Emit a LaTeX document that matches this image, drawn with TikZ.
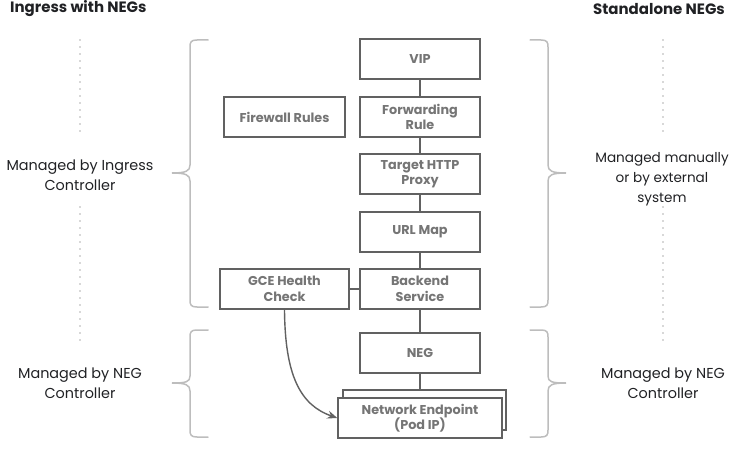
\documentclass[tikz,border=0pt]{standalone}
\usepackage{fontspec}
\setmainfont{Poppins}
\usetikzlibrary{arrows.meta}
\definecolor{boxc}{HTML}{616161}
\definecolor{txtc}{HTML}{757575}
\definecolor{lblc}{HTML}{202124}
\definecolor{brc}{HTML}{BDBDBD}
\definecolor{dotc}{HTML}{B0B0B0}
\tikzset{
  box/.style={draw=boxc, line width=1.4pt, fill=white, text=txtc, font=\fontsize{12.8}{15.5}\selectfont\bfseries, align=center, inner sep=0pt, minimum height=40pt},
  wire/.style={draw=boxc, line width=1.4pt},
  brace/.style={draw=brc, line width=1.5pt, line cap=round},
  dotline/.style={draw=dotc, line width=1.7pt, line cap=round, dash pattern=on 0pt off 7pt},
  lbl/.style={text=lblc, font=\fontsize{14.4}{20}\selectfont, align=center, inner sep=0pt},
  ttl/.style={text=lblc, font=\fontsize{15}{16}\selectfont\bfseries, inner sep=0pt}
}
\begin{document}
\begin{tikzpicture}[x=1pt,y=-1pt]
\useasboundingbox (0,0) rectangle (733,449);
% titles
\node[ttl, anchor=west] (t1) at (10,9) {Ingress with NEGs};
\node[ttl, anchor=east] (t2) at (725,9) {Standalone NEGs};
% dotted lines
\coordinate (dl1a) at (80,40); \coordinate (dl1b) at (80,137);
\coordinate (dl2a) at (80,207); \coordinate (dl2b) at (80,343);
\coordinate (dr1a) at (663,40); \coordinate (dr1b) at (663,137);
\coordinate (dr2a) at (663,207); \coordinate (dr2b) at (663,343);
\draw[dotline] (dl1a) -- (dl1b);
\draw[dotline] (dl2a) -- (dl2b);
\draw[dotline] (dr1a) -- (dr1b);
\draw[dotline] (dr2a) -- (dr2b);
% labels
\node[lbl] (l1) at (80,175.5) {Managed by Ingress\\Controller};
\node[lbl] (l2) at (80,383.5) {Managed by NEG\\Controller};
\node[lbl, font=\fontsize{13.6}{20}\selectfont] (r1) at (662,179) {Managed manually\\or by external\\system};
\node[lbl] (r2) at (663,383.5) {Managed by NEG\\Controller};
% braces
\draw[brace] (208,40) -- (197,40) .. controls (191,40) and (190,42) .. (190,47) -- (190,165)
  .. controls (190,171) and (186,173) .. (172,173)
  .. controls (186,173) and (190,175) .. (190,181) -- (190,300)
  .. controls (190,305) and (191,307) .. (197,307) -- (208,307);
\draw[brace] (208,330) -- (197,330) .. controls (191,330) and (190,332) .. (190,337) -- (190,376)
  .. controls (190,382) and (186,383) .. (172,383)
  .. controls (186,383) and (190,385) .. (190,391) -- (190,430)
  .. controls (190,435) and (191,437) .. (197,437) -- (208,437);
\draw[brace] (530,40) -- (541,40) .. controls (547,40) and (548,42) .. (548,47) -- (548,165)
  .. controls (548,171) and (552,173) .. (566,173)
  .. controls (552,173) and (548,175) .. (548,181) -- (548,300)
  .. controls (548,305) and (547,307) .. (541,307) -- (530,307);
\draw[brace] (530,330) -- (541,330) .. controls (547,330) and (548,332) .. (548,337) -- (548,376)
  .. controls (548,382) and (552,383) .. (566,383)
  .. controls (552,383) and (548,385) .. (548,391) -- (548,430)
  .. controls (548,435) and (547,437) .. (541,437) -- (530,437);
% boxes
\node[box, minimum width=120pt] (vip) at (420,59) {VIP};
\node[box, minimum width=120pt] (fwd) at (420,117) {Forwarding\\Rule};
\node[box, minimum width=120pt] (thp) at (420,174) {Target HTTP\\Proxy};
\node[box, minimum width=120pt] (url) at (420,232) {URL Map};
\node[box, minimum width=120pt] (bes) at (420,289) {Backend\\Service};
\node[box, minimum width=121pt] (fwr) at (284.5,117) {Firewall Rules};
\node[box, minimum width=129pt] (gce) at (284.5,289) {GCE Health\\Check};
\node[box, minimum width=120pt] (neg) at (420,353) {NEG};
\node[box, minimum width=163pt] (epb) at (424.5,410) {};
\node[box, minimum width=164pt] (ep) at (420,418) {Network Endpoint\\(Pod IP)};
% connectors
\draw[wire] (vip) -- (fwd);
\draw[wire] (fwd) -- (thp);
\draw[wire] (thp) -- (url);
\draw[wire] (url) -- (bes);
\draw[wire] (bes) -- (neg);
\draw[wire] (neg) -- (neg |- epb.north);
\draw[wire] (gce) -- (bes);
\draw[wire, -{Stealth[length=10pt,width=8pt]}] (gce.south) .. controls (285,375) and (300,405) .. (ep.west);
\end{tikzpicture}
\end{document}
